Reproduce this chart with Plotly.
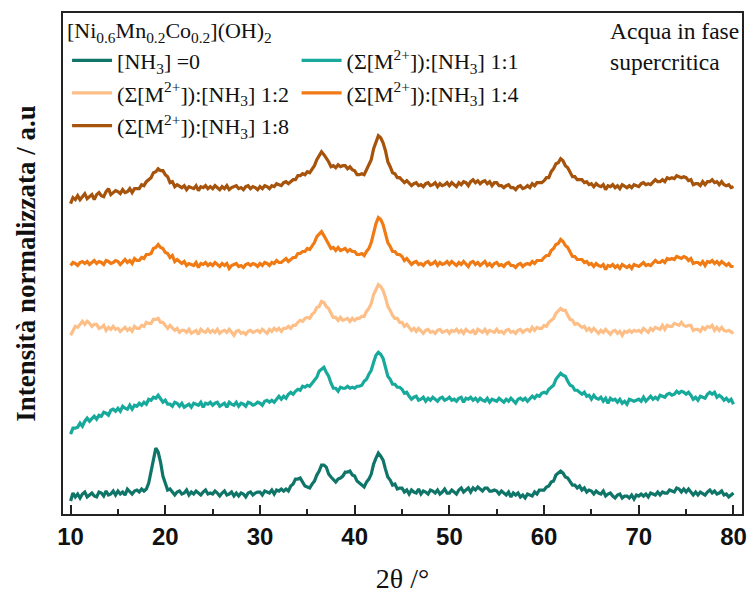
import plotly.graph_objects as go

# 2θ sampling grid of the diffractograms (degrees, 0.25° step)
TWO_THETA = [round(10 + 0.25 * i, 2) for i in range(281)]

# Stacked, normalised intensities (a.u.), one array per synthesis condition
I_NH3_0 = [
    13, 21, 17, 20, 16, 20, 22, 17, 19, 21, 18, 17, 22, 21, 18, 23, 19, 20, 23, 19,
    23, 20, 22, 19, 25, 22, 20, 23, 24, 22, 25, 23, 25, 31, 42, 54, 66, 62, 52, 38,
    30, 24, 25, 22, 19, 22, 23, 20, 21, 24, 19, 22, 20, 23, 21, 19, 22, 24, 20, 21,
    20, 23, 21, 18, 21, 23, 19, 20, 22, 18, 21, 18, 21, 20, 17, 21, 22, 19, 21, 22,
    22, 19, 23, 22, 21, 24, 20, 24, 23, 25, 23, 25, 23, 28, 30, 35, 35, 36, 32, 28,
    27, 26, 30, 33, 39, 43, 49, 49, 47, 40, 37, 35, 32, 35, 36, 38, 42, 42, 43, 39,
    38, 33, 31, 30, 27, 32, 35, 40, 50, 56, 61, 58, 54, 45, 37, 34, 29, 30, 25, 26,
    26, 22, 24, 20, 24, 22, 21, 25, 20, 23, 22, 20, 24, 23, 21, 24, 20, 22, 25, 21,
    21, 24, 22, 20, 24, 26, 22, 24, 26, 22, 26, 24, 27, 25, 23, 26, 26, 23, 23, 24,
    23, 20, 23, 21, 19, 22, 17, 21, 19, 21, 17, 19, 16, 20, 19, 18, 22, 20, 24, 24,
    24, 27, 28, 32, 33, 39, 41, 43, 41, 37, 36, 32, 29, 29, 26, 28, 24, 26, 22, 24,
    23, 20, 23, 21, 20, 23, 18, 20, 21, 18, 16, 19, 20, 16, 18, 18, 16, 19, 15, 19,
    18, 20, 18, 20, 17, 21, 20, 19, 22, 19, 22, 21, 21, 24, 23, 22, 26, 25, 22, 25,
    22, 25, 22, 19, 22, 19, 22, 20, 19, 22, 24, 21, 23, 20, 21, 23, 19, 20, 17, 19,
    21,
]

I_RATIO_1_1 = [
    80, 86, 86, 87, 91, 88, 93, 96, 93, 95, 98, 95, 99, 98, 102, 101, 99, 104, 105, 103,
    106, 103, 108, 106, 105, 109, 105, 109, 108, 111, 109, 112, 110, 115, 114, 117, 116, 119, 115, 112,
    114, 110, 110, 108, 112, 111, 108, 111, 107, 109, 110, 107, 111, 110, 109, 112, 107, 111, 110, 112,
    109, 111, 112, 108, 110, 111, 107, 112, 110, 109, 112, 108, 111, 110, 108, 112, 111, 109, 110, 112,
    111, 109, 113, 114, 112, 114, 112, 115, 118, 115, 118, 116, 120, 122, 120, 123, 125, 124, 128, 127,
    129, 128, 131, 135, 137, 143, 145, 147, 142, 138, 131, 126, 126, 123, 127, 126, 126, 128, 126, 127,
    126, 128, 128, 129, 133, 135, 140, 144, 152, 159, 162, 160, 156, 146, 138, 135, 130, 130, 127, 127,
    125, 121, 122, 118, 115, 117, 118, 114, 115, 117, 113, 116, 114, 117, 115, 113, 116, 117, 114, 115,
    117, 114, 115, 113, 116, 117, 112, 116, 115, 117, 114, 116, 113, 116, 114, 113, 116, 112, 115, 114,
    113, 116, 114, 112, 115, 113, 116, 114, 111, 115, 116, 114, 116, 113, 116, 118, 116, 119, 118, 121,
    122, 121, 125, 127, 129, 135, 138, 141, 139, 138, 133, 129, 128, 124, 124, 122, 120, 122, 118, 119,
    115, 119, 116, 115, 117, 113, 116, 111, 116, 114, 115, 112, 115, 111, 113, 110, 115, 114, 113, 114,
    115, 113, 117, 113, 115, 118, 115, 117, 115, 119, 118, 117, 120, 121, 119, 120, 123, 121, 123, 122,
    120, 122, 119, 115, 117, 114, 118, 117, 116, 120, 122, 120, 122, 117, 119, 117, 114, 116, 113, 115,
    110,
]

I_RATIO_1_2 = [
    179, 184, 188, 187, 190, 193, 190, 193, 191, 188, 190, 190, 186, 187, 189, 184, 187, 185, 188, 185,
    186, 183, 185, 187, 184, 186, 183, 188, 186, 186, 189, 188, 192, 191, 191, 195, 195, 196, 192, 192,
    189, 186, 189, 187, 184, 186, 182, 184, 184, 182, 185, 181, 183, 184, 180, 185, 183, 182, 185, 182,
    184, 182, 185, 181, 183, 184, 182, 185, 182, 179, 183, 184, 181, 182, 180, 183, 184, 182, 183, 184,
    182, 185, 183, 181, 185, 183, 186, 184, 186, 183, 186, 186, 188, 186, 189, 189, 192, 194, 193, 196,
    197, 196, 200, 202, 207, 208, 213, 212, 208, 206, 201, 197, 197, 194, 197, 194, 195, 196, 193, 196,
    194, 196, 196, 198, 198, 203, 206, 211, 220, 225, 230, 228, 224, 217, 208, 204, 199, 196, 196, 192,
    192, 188, 190, 187, 184, 186, 183, 186, 183, 181, 184, 185, 182, 183, 181, 184, 185, 182, 183, 184,
    181, 184, 183, 185, 182, 184, 181, 185, 183, 182, 184, 180, 185, 183, 182, 185, 181, 184, 183, 182,
    185, 182, 183, 181, 184, 185, 182, 183, 181, 184, 185, 182, 184, 185, 183, 187, 184, 187, 186, 186,
    189, 188, 192, 194, 196, 201, 203, 206, 204, 204, 199, 195, 194, 190, 191, 189, 187, 188, 184, 186,
    183, 186, 183, 181, 184, 182, 185, 182, 180, 183, 184, 181, 183, 179, 183, 182, 184, 182, 184, 183,
    184, 182, 186, 184, 182, 186, 184, 187, 186, 185, 189, 185, 189, 188, 188, 191, 190, 189, 192, 189,
    188, 189, 189, 184, 185, 185, 183, 187, 185, 188, 187, 189, 184, 187, 184, 187, 184, 183, 184, 182,
    181,
]

I_RATIO_1_4 = [
    249, 252, 251, 249, 252, 253, 251, 253, 250, 252, 254, 251, 253, 252, 250, 254, 253, 251, 252, 254,
    253, 250, 252, 255, 252, 254, 251, 256, 254, 254, 257, 256, 260, 260, 261, 266, 267, 270, 267, 266,
    262, 261, 257, 259, 253, 255, 253, 251, 253, 249, 251, 250, 249, 252, 247, 251, 250, 252, 249, 251,
    249, 252, 250, 248, 251, 249, 251, 246, 249, 250, 251, 248, 249, 247, 250, 251, 249, 251, 250, 248,
    251, 249, 252, 251, 249, 252, 251, 254, 252, 252, 254, 256, 253, 255, 257, 257, 261, 261, 263, 263,
    266, 265, 269, 272, 278, 281, 283, 279, 275, 271, 266, 267, 264, 267, 264, 265, 266, 263, 265, 263,
    263, 260, 260, 261, 259, 263, 266, 272, 283, 291, 297, 295, 290, 282, 272, 268, 263, 263, 260, 260,
    258, 254, 256, 253, 250, 252, 253, 250, 251, 249, 252, 253, 250, 251, 253, 249, 252, 250, 251, 253,
    250, 253, 251, 249, 252, 250, 253, 251, 248, 252, 253, 250, 252, 249, 251, 253, 249, 251, 248, 251,
    252, 249, 250, 248, 251, 252, 249, 249, 247, 250, 251, 248, 250, 251, 250, 253, 251, 254, 254, 254,
    257, 259, 259, 264, 266, 270, 271, 275, 273, 269, 267, 262, 258, 258, 255, 255, 255, 252, 253, 250,
    251, 248, 251, 249, 248, 250, 245, 249, 248, 250, 247, 249, 246, 250, 248, 247, 249, 246, 250, 249,
    248, 250, 252, 249, 250, 249, 252, 254, 252, 252, 254, 252, 256, 255, 256, 255, 258, 257, 256, 258,
    257, 254, 256, 251, 252, 252, 250, 253, 249, 253, 252, 254, 251, 253, 250, 253, 251, 249, 251, 248,
    248,
]

I_RATIO_1_8 = [
    311, 317, 315, 319, 315, 318, 321, 316, 318, 320, 315, 320, 322, 319, 318, 323, 326, 320, 322, 324,
    323, 321, 325, 322, 323, 326, 322, 326, 326, 326, 330, 329, 333, 335, 337, 342, 343, 346, 344, 344,
    340, 338, 332, 333, 328, 330, 328, 327, 329, 325, 328, 327, 326, 329, 324, 328, 327, 329, 326, 328,
    326, 329, 327, 325, 328, 326, 329, 325, 327, 328, 329, 326, 327, 325, 328, 329, 326, 328, 327, 325,
    328, 326, 329, 328, 326, 329, 328, 331, 330, 329, 332, 333, 331, 333, 335, 335, 339, 339, 341, 340,
    343, 342, 346, 349, 355, 359, 363, 360, 357, 353, 348, 349, 347, 350, 348, 349, 349, 346, 348, 345,
    344, 340, 340, 341, 340, 345, 349, 355, 366, 373, 379, 377, 372, 364, 353, 348, 342, 341, 337, 337,
    335, 332, 334, 331, 329, 331, 332, 329, 330, 328, 331, 332, 329, 330, 332, 328, 331, 329, 330, 332,
    329, 332, 330, 328, 332, 330, 333, 332, 329, 333, 335, 332, 334, 331, 333, 334, 331, 333, 329, 332,
    332, 329, 329, 327, 329, 330, 327, 327, 325, 328, 329, 326, 327, 329, 327, 331, 329, 332, 332, 332,
    334, 337, 337, 343, 346, 351, 352, 356, 354, 349, 347, 342, 338, 338, 335, 335, 335, 332, 333, 330,
    331, 328, 331, 329, 328, 330, 325, 329, 328, 330, 327, 329, 326, 330, 328, 327, 329, 327, 330, 329,
    328, 331, 332, 330, 331, 330, 333, 335, 333, 333, 335, 333, 337, 336, 337, 336, 339, 338, 337, 338,
    337, 334, 335, 330, 331, 331, 329, 333, 330, 333, 333, 335, 332, 333, 330, 333, 330, 329, 330, 327,
    328,
]

SERIES_NAMES = [
    "[NH<sub>3</sub>] =0",
    "(Σ[M<sup>2+</sup>]):[NH<sub>3</sub>] 1:1",
    "(Σ[M<sup>2+</sup>]):[NH<sub>3</sub>] 1:2",
    "(Σ[M<sup>2+</sup>]):[NH<sub>3</sub>] 1:4",
    "(Σ[M<sup>2+</sup>]):[NH<sub>3</sub>] 1:8",
]
SERIES_VALUES = [I_NH3_0, I_RATIO_1_1, I_RATIO_1_2, I_RATIO_1_4, I_RATIO_1_8]
SERIES_COLORS = ["#0f7568", "#17aa9c", "#fdbf87", "#f07a14", "#a6530b"]
SERIES_LEGEND = ["legend", "legend2", "legend", "legend2", "legend"]

X_TICKS = [10, 20, 30, 40, 50, 60, 70, 80]

SERIF = "Liberation Serif"
SANS = "Liberation Sans"

fig = go.Figure()
for name, vals, color, leg in zip(SERIES_NAMES, SERIES_VALUES, SERIES_COLORS, SERIES_LEGEND):
    fig.add_trace(go.Scatter(
        x=TWO_THETA, y=vals, mode="lines", name=name,
        line=dict(color=color, width=3.2),
        legend=leg, legendgroup=name,
    ))

legend_common = dict(
    bgcolor="rgba(0,0,0,0)",
    font=dict(family=SERIF, size=22, color="#111"),
    tracegroupgap=1,
    itemwidth=40,
    xanchor="left", yanchor="top",
)

fig.update_layout(
    width=753, height=595,
    margin=dict(l=63, r=6, t=13, b=80),
    paper_bgcolor="white", plot_bgcolor="white",
    legend=dict(x=0.006, y=0.947, **legend_common),
    legend2=dict(x=0.344, y=0.947, **legend_common),
    xaxis=dict(
        range=[9.2, 80.9],
        tickvals=X_TICKS,
        ticks="inside", ticklen=9, tickwidth=1.5, tickcolor="#222",
        minor=dict(dtick=5, tick0=5, ticks="inside", ticklen=5, tickwidth=1.5, tickcolor="#222"),
        showline=True, linecolor="#222", linewidth=2, mirror=True,
        showgrid=False, zeroline=False,
        tickfont=dict(family=SANS, size=24, color="#111", weight="bold"),
        title=dict(text="2θ /°", font=dict(family=SERIF, size=28, color="#111"), standoff=20),
    ),
    yaxis=dict(
        range=[0, 502],
        showticklabels=False, ticks="",
        showline=True, linecolor="#222", linewidth=2, mirror=True,
        showgrid=False, zeroline=False,
        title=dict(text="Intensità normalizzata / a.u",
                   font=dict(family=SERIF, size=27, color="#111", weight="bold"),
                   standoff=18),
    ),
)

fig.add_annotation(
    xref="paper", yref="paper", x=0.003, y=0.995, xanchor="left", yanchor="top",
    text="[Ni<sub>0.6</sub>Mn<sub>0.2</sub>Co<sub>0.2</sub>](OH)<sub>2</sub>",
    showarrow=False, font=dict(family=SERIF, size=22, color="#111"),
)
fig.add_annotation(
    xref="paper", yref="paper", x=0.803, y=0.995, xanchor="left", yanchor="top",
    text="Acqua in fase<br>supercritica", align="left",
    showarrow=False, font=dict(family=SERIF, size=23.5, color="#111"),
)

fig.write_html("out.html")
